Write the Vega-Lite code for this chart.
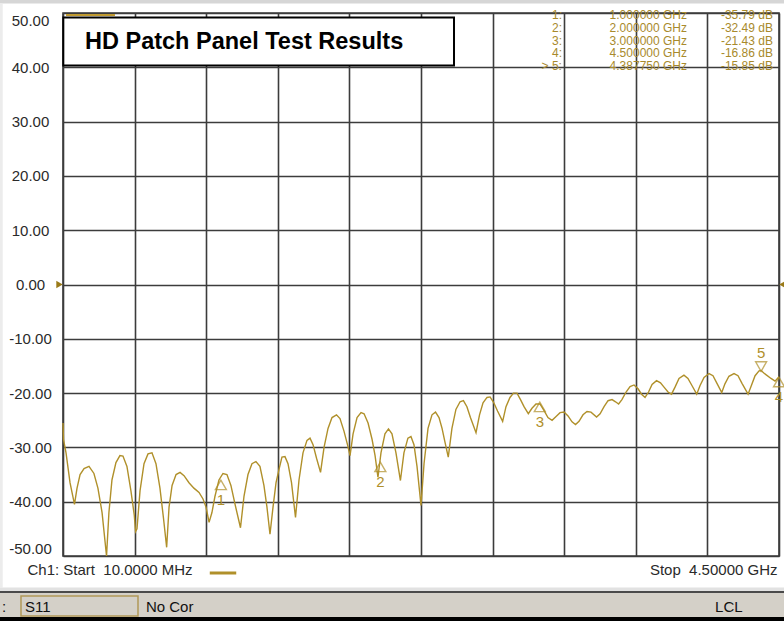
{
  "$schema": "https://vega.github.io/schema/vega-lite/v6.json",
  "width": 716,
  "height": 543,
  "autosize": {"type": "none"},
  "padding": {"left": 63, "top": 13, "right": 5, "bottom": 65},
  "background": "#ffffff",
  "config": {
    "view": {"stroke": "#3c3c3c", "strokeWidth": 1.6},
    "font": "Liberation Sans"
  },
  "data": {"values": [{}]},
  "datasets": {
    "trace": [
      {"f":0.010,"db":-25.5},{"f":0.013,"db":-28.5},{"f":0.029,"db":-31},{"f":0.054,"db":-36.5},{"f":0.082,"db":-40.5},
      {"f":0.098,"db":-37.5},{"f":0.117,"db":-35},{"f":0.142,"db":-33.9},{"f":0.173,"db":-33.5},{"f":0.204,"db":-34.8},
      {"f":0.229,"db":-37.5},{"f":0.255,"db":-42},{"f":0.283,"db":-50},{"f":0.298,"db":-42},{"f":0.317,"db":-36},
      {"f":0.342,"db":-32.8},{"f":0.367,"db":-31.5},{"f":0.386,"db":-31.6},{"f":0.411,"db":-33.5},{"f":0.436,"db":-38},
      {"f":0.457,"db":-42.5},{"f":0.465,"db":-45.5},{"f":0.474,"db":-45},{"f":0.493,"db":-38},{"f":0.518,"db":-33},
      {"f":0.543,"db":-31.2},{"f":0.568,"db":-31},{"f":0.593,"db":-33},{"f":0.618,"db":-37.5},{"f":0.640,"db":-43},
      {"f":0.660,"db":-48.4},{"f":0.675,"db":-41},{"f":0.694,"db":-37},{"f":0.719,"db":-35},{"f":0.744,"db":-34.6},
      {"f":0.769,"db":-35.2},{"f":0.800,"db":-36.5},{"f":0.831,"db":-37.5},{"f":0.863,"db":-38.3},{"f":0.888,"db":-39.5},
      {"f":0.907,"db":-41},{"f":0.926,"db":-43.8},{"f":0.944,"db":-42},{"f":0.963,"db":-39},{"f":0.988,"db":-36},
      {"f":1.013,"db":-34.8},{"f":1.038,"db":-35},{"f":1.063,"db":-37},{"f":1.089,"db":-40.5},{"f":1.123,"db":-44.8},
      {"f":1.145,"db":-39},{"f":1.170,"db":-35},{"f":1.195,"db":-33},{"f":1.220,"db":-32.6},{"f":1.245,"db":-33.5},
      {"f":1.270,"db":-37},{"f":1.289,"db":-41},{"f":1.308,"db":-46},{"f":1.327,"db":-41},{"f":1.346,"db":-36.5},
      {"f":1.365,"db":-34},{"f":1.383,"db":-31.8},{"f":1.402,"db":-31.7},{"f":1.421,"db":-33},{"f":1.443,"db":-36.5},
      {"f":1.468,"db":-42.9},{"f":1.490,"db":-36},{"f":1.515,"db":-31},{"f":1.540,"db":-28.7},{"f":1.559,"db":-28.3},
      {"f":1.578,"db":-29.5},{"f":1.600,"db":-32},{"f":1.625,"db":-34.6},{"f":1.647,"db":-30},{"f":1.672,"db":-26.5},
      {"f":1.697,"db":-24.5},{"f":1.725,"db":-24},{"f":1.747,"db":-24.7},{"f":1.772,"db":-27},{"f":1.794,"db":-29.5},
      {"f":1.810,"db":-31.5},{"f":1.829,"db":-27.5},{"f":1.854,"db":-24.5},{"f":1.879,"db":-23.6},{"f":1.898,"db":-23.8},
      {"f":1.923,"db":-25.5},{"f":1.948,"db":-28.5},{"f":1.967,"db":-31.5},{"f":1.985,"db":-35.5},{"f":2.004,"db":-31},
      {"f":2.029,"db":-27.5},{"f":2.051,"db":-26.6},{"f":2.073,"db":-27.5},{"f":2.098,"db":-31},{"f":2.126,"db":-36.1},
      {"f":2.148,"db":-31},{"f":2.173,"db":-28.3},{"f":2.192,"db":-28},{"f":2.211,"db":-29.5},{"f":2.230,"db":-33.5},
      {"f":2.255,"db":-40.7},{"f":2.274,"db":-33},{"f":2.299,"db":-26.5},{"f":2.324,"db":-24},{"f":2.346,"db":-23.5},
      {"f":2.368,"db":-24.5},{"f":2.387,"db":-26.5},{"f":2.405,"db":-29},{"f":2.426,"db":-31.8},{"f":2.449,"db":-26.5},
      {"f":2.474,"db":-23},{"f":2.500,"db":-21.6},{"f":2.521,"db":-21.4},{"f":2.543,"db":-22.5},{"f":2.565,"db":-24.5},
      {"f":2.600,"db":-27.3},{"f":2.622,"db":-24},{"f":2.644,"db":-21.8},{"f":2.669,"db":-20.8},{"f":2.688,"db":-20.7},
      {"f":2.710,"db":-21.7},{"f":2.735,"db":-23.3},{"f":2.767,"db":-25.2},{"f":2.788,"db":-22.5},{"f":2.813,"db":-20.8},
      {"f":2.835,"db":-20},{"f":2.857,"db":-20},{"f":2.879,"db":-21.2},{"f":2.901,"db":-22.5},{"f":2.928,"db":-23.8},
      {"f":2.951,"db":-22.8},{"f":2.976,"db":-22},{"f":3.001,"db":-22},{"f":3.026,"db":-23.2},{"f":3.051,"db":-24.5},
      {"f":3.077,"db":-25},{"f":3.102,"db":-24.3},{"f":3.127,"db":-23.6},{"f":3.152,"db":-23.5},{"f":3.177,"db":-24.2},
      {"f":3.202,"db":-25.3},{"f":3.224,"db":-25.8},{"f":3.246,"db":-25.2},{"f":3.271,"db":-24},{"f":3.296,"db":-23.4},
      {"f":3.321,"db":-23.5},{"f":3.356,"db":-24.4},{"f":3.378,"db":-23.8},{"f":3.403,"db":-22.5},{"f":3.428,"db":-21.4},
      {"f":3.453,"db":-21.2},{"f":3.475,"db":-21.6},{"f":3.494,"db":-22},{"f":3.515,"db":-21.2},{"f":3.541,"db":-19.8},
      {"f":3.566,"db":-18.8},{"f":3.591,"db":-18.5},{"f":3.616,"db":-19.2},{"f":3.638,"db":-20.2},{"f":3.660,"db":-20.8},
      {"f":3.682,"db":-19.8},{"f":3.704,"db":-18.4},{"f":3.732,"db":-17.7},{"f":3.757,"db":-18.1},{"f":3.779,"db":-18.9},
      {"f":3.804,"db":-19.8},{"f":3.826,"db":-20.2},{"f":3.848,"db":-18.9},{"f":3.873,"db":-17.3},{"f":3.904,"db":-16.7},
      {"f":3.929,"db":-17.3},{"f":3.954,"db":-18.6},{"f":3.984,"db":-20.2},{"f":4.005,"db":-18.6},{"f":4.030,"db":-17.1},
      {"f":4.061,"db":-16.4},{"f":4.086,"db":-16.8},{"f":4.111,"db":-18.2},{"f":4.141,"db":-19.9},{"f":4.161,"db":-18.3},
      {"f":4.186,"db":-16.9},{"f":4.218,"db":-16.4},{"f":4.243,"db":-16.8},{"f":4.268,"db":-18.2},{"f":4.306,"db":-20.2},
      {"f":4.328,"db":-18.5},{"f":4.350,"db":-16.8},{"f":4.375,"db":-15.9},{"f":4.388,"db":-15.85},{"f":4.405,"db":-16.3},
      {"f":4.418,"db":-16.6},{"f":4.450,"db":-17.3},{"f":4.475,"db":-17.8},{"f":4.500,"db":-17.0}
    ],
    "markers": [
      {"m":"1","idx":1,"lab":"1:","fq":"1.000000 GHz","val":"-35.79 dB","f":1.0,"db":-35.79},
      {"m":"2","idx":2,"lab":"2:","fq":"2.000000 GHz","val":"-32.49 dB","f":2.0,"db":-32.49},
      {"m":"3","idx":3,"lab":"3:","fq":"3.000000 GHz","val":"-21.43 dB","f":3.0,"db":-21.43},
      {"m":"4","idx":4,"lab":"4:","fq":"4.500000 GHz","val":"-16.86 dB","f":4.5,"db":-16.86},
      {"m":"5","idx":5,"lab":"> 5:","fq":"4.387750 GHz","val":"-15.85 dB","f":4.38775,"db":-15.85}
    ]
  },
  "resolve": {"scale": {"y": "independent"}},
  "layer": [
    {
      "layer": [
        {"mark": {"type": "rect", "color": "#d6d6d6"}, "encoding": {"x": {"datum": -0.5}, "x2": {"datum": 4.7}, "y": {"datum": 53}, "y2": {"datum": 51.75}}},
        {"mark": {"type": "rect", "color": "#ececec"}, "encoding": {"x": {"datum": -0.5}, "x2": {"datum": -0.368}, "y": {"datum": 51.75}, "y2": {"datum": -55.8}}},
        {"mark": {"type": "rect", "color": "#e2e2e2"}, "encoding": {"x": {"datum": -0.5}, "x2": {"datum": 4.7}, "y": {"datum": -55.8}, "y2": {"datum": -56.45}}},
        {"mark": {"type": "rect", "color": "#4a4a4a"}, "encoding": {"x": {"datum": -0.5}, "x2": {"datum": 4.7}, "y": {"datum": -56.45}, "y2": {"datum": -56.81}}},
        {"mark": {"type": "rect", "color": "#d4d0c8"}, "encoding": {"x": {"datum": -0.5}, "x2": {"datum": 4.7}, "y": {"datum": -56.81}, "y2": {"datum": -61.23}}},
        {"mark": {"type": "rect", "color": "#000000"}, "encoding": {"x": {"datum": -0.5}, "x2": {"datum": 4.7}, "y": {"datum": -61.23}, "y2": {"datum": -63}}},
        {"mark": {"type": "rect", "fill": "#d4d0c8", "stroke": "#b09858", "strokeWidth": 1.5}, "encoding": {"x": {"datum": -0.2534}, "x2": {"datum": 0.4803}, "y": {"datum": -57.37}, "y2": {"datum": -61.05}}},
        {"mark": {"type": "text", "text": ":", "align": "left", "baseline": "middle", "fontSize": 15, "color": "#111111"}, "encoding": {"x": {"datum": -0.372}, "y": {"datum": -59.39}}},
        {"mark": {"type": "text", "text": "S11", "align": "left", "baseline": "middle", "fontSize": 15, "color": "#111111"}, "encoding": {"x": {"datum": -0.228}, "y": {"datum": -59.39}}},
        {"mark": {"type": "text", "text": "No Cor", "align": "left", "baseline": "middle", "fontSize": 15, "color": "#111111"}, "encoding": {"x": {"datum": 0.53}, "y": {"datum": -59.39}}},
        {"mark": {"type": "text", "text": "LCL", "align": "left", "baseline": "middle", "fontSize": 15, "color": "#111111"}, "encoding": {"x": {"datum": 4.099}, "y": {"datum": -59.39}}},
        {"mark": {"type": "rule", "color": "#c09a30", "strokeWidth": 2}, "encoding": {"x": {"datum": 0.029}, "x2": {"datum": 0.336}, "y": {"datum": 49.63}}},
        {
          "data": {"name": "trace"},
          "mark": {"type": "line", "strokeWidth": 1.4, "interpolate": "linear"},
          "encoding": {
            "x": {"field": "f", "type": "quantitative", "scale": {"domain": [0.01, 4.5], "nice": false, "zero": false},
              "axis": {"title": null, "values": [0.01, 0.459, 0.908, 1.357, 1.806, 2.255, 2.704, 3.153, 3.602, 4.051, 4.5],
                "labelExpr": "datum.value < 0.1 ? 'Ch1: Start\u00a0 10.0000 MHz' : (datum.value > 4.4 ? 'Stop\u00a0 4.50000 GHz' : '')",
                "labelAlign": {"condition": {"test": "datum.value < 0.1", "value": "left"}, "value": "right"},
                "labelOffset": {"condition": {"test": "datum.value < 0.1", "value": -36}, "value": -2},
                "labelPadding": 6, "labelBaseline": "top", "ticks": false, "domain": false, "grid": true,
                "gridColor": "#3c3c3c", "gridWidth": 1.6, "labelFont": "Liberation Sans", "labelFontSize": 15, "labelColor": "#2a2a2a",
                "labelOverlap": false, "labelBound": false, "labelFlush": false}},
            "y": {"field": "db", "type": "quantitative", "scale": {"domain": [-50, 50], "nice": false, "zero": false},
              "axis": {"title": null, "values": [-50, -40, -30, -20, -10, 0, 10, 20, 30, 40, 50],
                "labelExpr": "(datum.value < 0 ? '-' : '') + format(abs(datum.value), '.2f')",
                "labelAlign": "center", "labelPadding": 33, "ticks": false, "tickSize": 0, "domain": false, "grid": true,
                "gridColor": "#3c3c3c", "gridWidth": 1.6, "labelFont": "Liberation Sans", "labelFontSize": 15, "labelColor": "#2a2a2a",
                "labelFlush": true, "labelOverlap": false}},
            "color": {"datum": "Ch1", "scale": {"domain": ["Ch1"], "range": ["#b0902a"]},
              "legend": {"orient": "none", "legendX": 145, "legendY": 545, "title": null, "symbolType": "stroke", "symbolSize": 700,
                "symbolStrokeWidth": 3, "labelExpr": "''", "padding": 0}}
          }
        },
        {"data": {"name": "markers"}, "transform": [{"filter": "datum.m != '5'"}],
          "mark": {"type": "point", "shape": "triangle-up", "size": 120, "filled": false, "stroke": "#b0902a", "strokeWidth": 1.4, "yOffset": 6},
          "encoding": {"x": {"field": "f", "type": "quantitative"}, "y": {"field": "db", "type": "quantitative"}}},
        {"data": {"name": "markers"}, "transform": [{"filter": "datum.m != '5'"}],
          "mark": {"type": "text", "fontSize": 15, "color": "#b0902a", "dy": 21, "baseline": "middle"},
          "encoding": {"x": {"field": "f", "type": "quantitative"}, "y": {"field": "db", "type": "quantitative"}, "text": {"field": "m"}}},
        {"data": {"name": "markers"}, "transform": [{"filter": "datum.m == '5'"}],
          "mark": {"type": "point", "shape": "triangle-down", "size": 120, "filled": false, "stroke": "#b0902a", "strokeWidth": 1.4, "yOffset": -4},
          "encoding": {"x": {"field": "f", "type": "quantitative"}, "y": {"field": "db", "type": "quantitative"}}},
        {"data": {"name": "markers"}, "transform": [{"filter": "datum.m == '5'"}],
          "mark": {"type": "text", "fontSize": 15, "color": "#b0902a", "dy": -18, "baseline": "middle"},
          "encoding": {"x": {"field": "f", "type": "quantitative"}, "y": {"field": "db", "type": "quantitative"}, "text": {"field": "m"}}},
        {"mark": {"type": "point", "shape": "triangle-right", "size": 55, "filled": true, "color": "#9a7a18", "opacity": 1, "xOffset": -3.5}, "encoding": {"x": {"datum": 0.01}, "y": {"datum": 0}}},
        {"mark": {"type": "point", "shape": "triangle-left", "size": 40, "filled": true, "color": "#9a7a18", "opacity": 1, "xOffset": 3}, "encoding": {"x": {"datum": 4.5}, "y": {"datum": 0}}},
        {"mark": {"type": "rect", "fill": "#ffffff", "stroke": "#000000", "strokeWidth": 2}, "encoding": {"x": {"datum": 0.012}, "x2": {"datum": 2.462}, "y": {"datum": 49.17}, "y2": {"datum": 40.33}}},
        {"mark": {"type": "text", "text": "HD Patch Panel Test Results", "align": "left", "baseline": "middle", "fontSize": 23.5, "fontWeight": "bold", "color": "#000000"}, "encoding": {"x": {"datum": 0.148}, "y": {"datum": 44.71}}}
      ]
    },
    {
      "data": {"name": "markers"},
      "layer": [
        {"mark": {"type": "text", "align": "right", "baseline": "middle", "fontSize": 12, "color": "#a88a2c"},
          "encoding": {"x": {"datum": 3.139}, "y": {"field": "idx", "type": "quantitative", "scale": {"domain": [0.844, 43.266], "reverse": true, "nice": false, "zero": false}, "axis": null}, "text": {"field": "lab"}}},
        {"mark": {"type": "text", "align": "right", "baseline": "middle", "fontSize": 12, "color": "#a88a2c"},
          "encoding": {"x": {"datum": 3.923}, "y": {"field": "idx", "type": "quantitative", "scale": {"domain": [0.844, 43.266], "reverse": true, "nice": false, "zero": false}, "axis": null}, "text": {"field": "fq"}}},
        {"mark": {"type": "text", "align": "right", "baseline": "middle", "fontSize": 12, "color": "#a88a2c"},
          "encoding": {"x": {"datum": 4.462}, "y": {"field": "idx", "type": "quantitative", "scale": {"domain": [0.844, 43.266], "reverse": true, "nice": false, "zero": false}, "axis": null}, "text": {"field": "val"}}}
      ]
    }
  ]
}
